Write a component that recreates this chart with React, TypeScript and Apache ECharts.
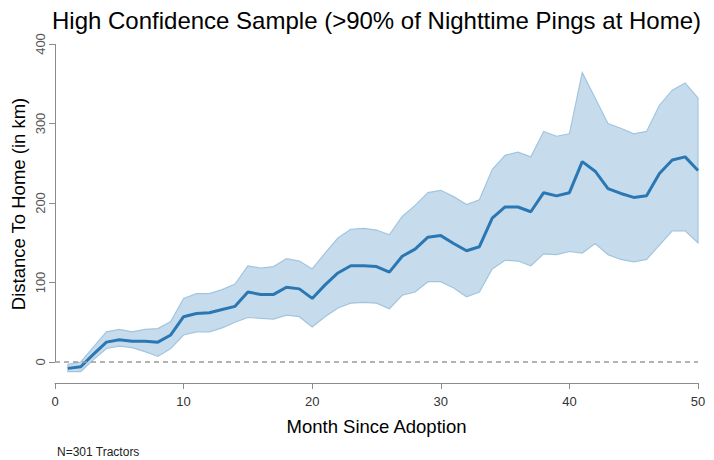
import React, { useEffect, useRef } from "react";
import * as echarts from "echarts";

const months = Array.from({ length: 50 }, (_, i) => i + 1);
const meanValues = [
  -8, -6, 10, 25, 28, 26, 26, 25, 34, 57,
  61, 62, 66, 70, 88, 85, 85, 94, 92, 80,
  97, 112, 121, 121, 120, 113, 133, 142, 157, 159,
  149, 140, 145, 181, 195, 195, 189, 213, 209, 213,
  252, 240, 218, 212, 207, 209, 237, 254, 258, 241,
];
const upperValues = [
  -3, 0, 19, 38, 41, 38, 41, 42, 51, 80,
  86, 86, 91, 98, 121, 118, 120, 130, 127, 117,
  137, 156, 167, 168, 166, 160, 183, 197, 213, 216,
  208, 198, 204, 242, 260, 264, 258, 290, 284, 287,
  364, 332, 300, 294, 287, 290, 323, 342, 351, 332,
];
const lowerValues = [
  -12, -12, 3, 17, 20, 18, 13, 7, 17, 34,
  38, 38, 43, 50, 56, 55, 54, 59, 57, 44,
  57, 68, 74, 75, 74, 67, 84, 88, 101, 101,
  93, 82, 88, 117, 128, 127, 121, 136, 135, 139,
  137, 149, 135, 129, 126, 129, 147, 165, 165, 150,
];
const yTicks = [0, 100, 200, 300, 400];

const FONT = '"Liberation Sans", Arial, sans-serif';

export default function App() {
  const ref = useRef<HTMLDivElement>(null);
  useEffect(() => {
    if (!ref.current) return;
    const chart = echarts.init(ref.current, undefined, { renderer: "svg" });
    const axisColor = "#8c8c8c";
    const option: any = {
      animation: false,
      textStyle: { fontFamily: FONT },
      title: {
        text: "High Confidence Sample (>90% of Nighttime Pings at Home)",
        left: 47,
        top: 3,
        textStyle: { fontSize: 24, fontWeight: "normal", color: "#000", fontFamily: FONT },
      },
      grid: { left: 55, right: 16, top: 44, bottom: 77 },
      xAxis: {
        type: "value",
        min: 0,
        max: 50,
        interval: 10,
        axisLine: { show: true, onZero: false, lineStyle: { color: axisColor, width: 1 } },
        axisTick: { show: true, length: 6, lineStyle: { color: axisColor } },
        axisLabel: { fontSize: 13, color: "#333", margin: 12, fontFamily: FONT },
        splitLine: { show: false },
        name: "Month Since Adoption",
        nameLocation: "middle",
        nameGap: 34,
        nameTextStyle: { fontSize: 18.5, color: "#000", fontFamily: FONT },
      },
      yAxis: {
        type: "value",
        min: -26.4,
        max: 400,
        axisLine: { show: false },
        axisTick: { show: true, length: 6, customValues: yTicks, lineStyle: { color: axisColor } },
        axisLabel: { customValues: yTicks, rotate: 90, fontSize: 13, color: "#555", margin: 8, fontFamily: FONT },
        splitLine: { show: false },
      },
      graphic: [
        {
          type: "text",
          x: 18,
          y: 204,
          rotation: Math.PI / 2,
          style: {
            text: "Distance To Home (in km)",
            fontSize: 18.5,
            fontFamily: FONT,
            fill: "#000",
            align: "center",
            verticalAlign: "middle",
          },
        },
        {
          type: "text",
          left: 57,
          top: 446,
          style: { text: "N=301 Tractors", fontSize: 12, fontFamily: FONT, fill: "#222" },
        },
      ],
      series: [
        {
          type: "custom",
          silent: true,
          z: 1,
          data: [[0, 0]],
          encode: { x: 0, y: 1 },
          renderItem: (_params: any, api: any) => {
            const pts: number[][] = [];
            months.forEach((m, i) => pts.push(api.coord([m, upperValues[i]])));
            for (let i = months.length - 1; i >= 0; i--) pts.push(api.coord([months[i], lowerValues[i]]));
            return {
              type: "polygon",
              shape: { points: pts },
              style: { fill: "#c6dcec", stroke: "#a2c5df", lineWidth: 1.2 },
            };
          },
        },
        {
          type: "line",
          z: 3,
          clip: false,
          data: months.map((m, i) => [m, meanValues[i]]),
          symbol: "none",
          lineStyle: { color: "#2b77b3", width: 3 },
          markLine: {
            silent: true,
            symbol: ["none", "none"],
            label: { show: false },
            data: [
              { yAxis: 0, lineStyle: { type: [5, 4], color: "#9a9a9a", width: 1.5 } },
              [
                { coord: [0, 0], lineStyle: { type: "solid", color: axisColor, width: 1 } },
                { coord: [0, 400], lineStyle: { type: "solid", color: axisColor, width: 1 } },
              ],
            ],
          },
        },
      ],
    };
    chart.setOption(option);
    return () => chart.dispose();
  }, []);
  return (
    <div
      ref={ref}
      style={{ position: "fixed", left: 0, top: 0, width: 714, height: 460, background: "#fff" }}
    />
  );
}
